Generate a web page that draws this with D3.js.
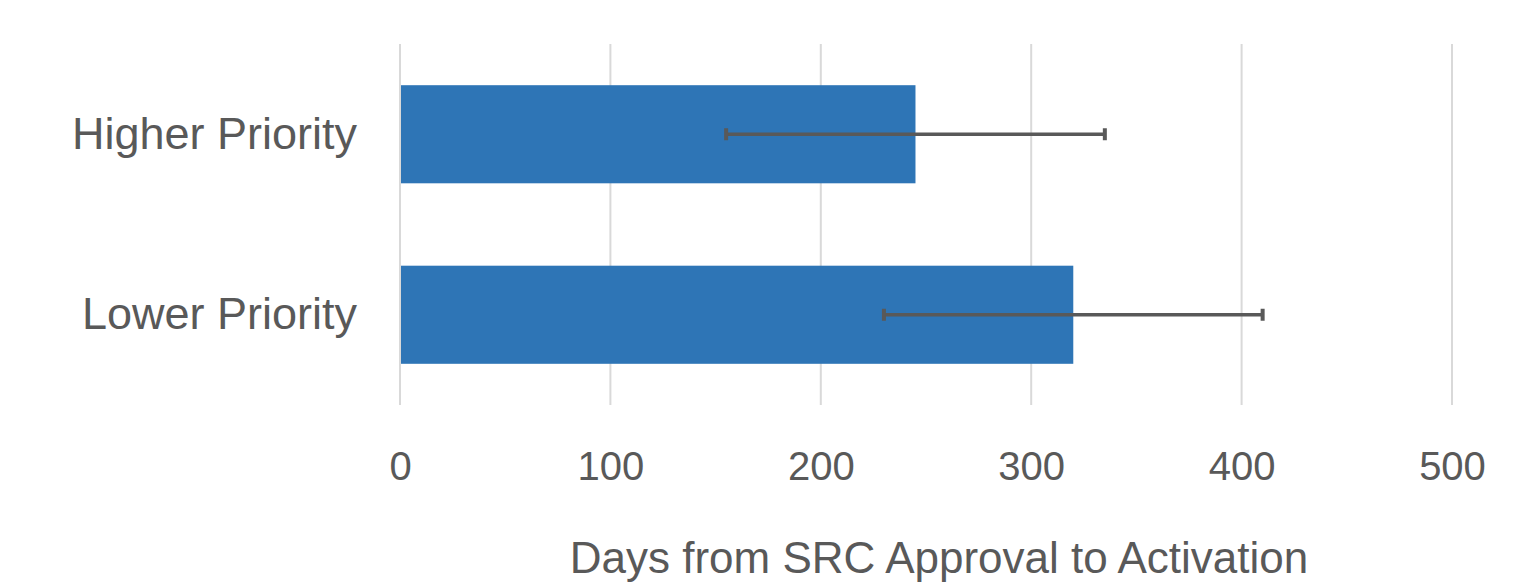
<!DOCTYPE html>
<html>
<head>
<meta charset="utf-8">
<script src="https://cdn.jsdelivr.net/npm/d3@7"></script>
<style>
  html, body { margin: 0; padding: 0; background: #fff; }
  svg { display: block; }
  text { font-family: "Liberation Sans", Arial, sans-serif; fill: #595959; }
</style>
</head>
<body>
<svg id="chart" width="1517" height="583"></svg>
<script>
const categories = ["Higher Priority", "Lower Priority"];
const values = [245, 320];
const errors = [90, 90];
const xTicks = [0, 100, 200, 300, 400, 500];
const xTitle = "Days from SRC Approval to Activation";

const W = 1517, H = 583;
const plot = { left: 400, right: 1452, top: 44, bottom: 405 };

const svg = d3.select("#chart");

const x = d3.scaleLinear().domain([0, 500]).range([plot.left, plot.right]);
const gap = 0.84;
const pin = gap / (1 + gap);
const y = d3.scaleBand().domain(categories).range([plot.top, plot.bottom])
  .paddingInner(pin).paddingOuter(pin / 2);

// gridlines
svg.append("g").selectAll("line").data(xTicks).join("line")
  .attr("x1", d => x(d)).attr("x2", d => x(d))
  .attr("y1", plot.top).attr("y2", plot.bottom)
  .attr("stroke", "#D9D9D9").attr("stroke-width", 2);

// bars
svg.append("g").selectAll("rect").data(categories).join("rect")
  .attr("x", x(0) + 1)
  .attr("y", d => y(d))
  .attr("width", (d, i) => x(values[i]) - x(0) - 1)
  .attr("height", y.bandwidth())
  .attr("fill", "#2E75B6");

// error bars
const eg = svg.append("g").attr("stroke", "#595959");
categories.forEach((c, i) => {
  const cy = y(c) + y.bandwidth() / 2;
  const x1 = x(values[i] - errors[i]), x2 = x(values[i] + errors[i]);
  eg.append("line").attr("x1", x1).attr("x2", x2).attr("y1", cy).attr("y2", cy).attr("stroke-width", 3.5);
  eg.append("line").attr("x1", x1).attr("x2", x1).attr("y1", cy - 6).attr("y2", cy + 6).attr("stroke-width", 4);
  eg.append("line").attr("x1", x2).attr("x2", x2).attr("y1", cy - 6).attr("y2", cy + 6).attr("stroke-width", 4);
});

// category labels (y axis)
const yAxis = d3.axisLeft(y).tickSize(0).tickPadding(43);
const yg = svg.append("g").attr("transform", `translate(${plot.left},0)`).call(yAxis);
yg.select(".domain").remove();
yg.selectAll("text").style("font-size", "45px").attr("fill", "#595959")
  .style("font-family", '"Liberation Sans", Arial, sans-serif');

// x tick labels
const xAxis = d3.axisBottom(x).tickValues(xTicks).tickSize(0).tickPadding(47).tickFormat(d3.format("d"));
const xg = svg.append("g").attr("transform", `translate(0,${plot.bottom})`).call(xAxis);
xg.select(".domain").remove();
xg.selectAll("text").style("font-size", "40px").attr("fill", "#595959")
  .style("font-family", '"Liberation Sans", Arial, sans-serif');

// axis title
svg.append("text").attr("x", 939).attr("y", 573)
  .attr("text-anchor", "middle").style("font-size", "44px").text(xTitle);
</script>
</body>
</html>
